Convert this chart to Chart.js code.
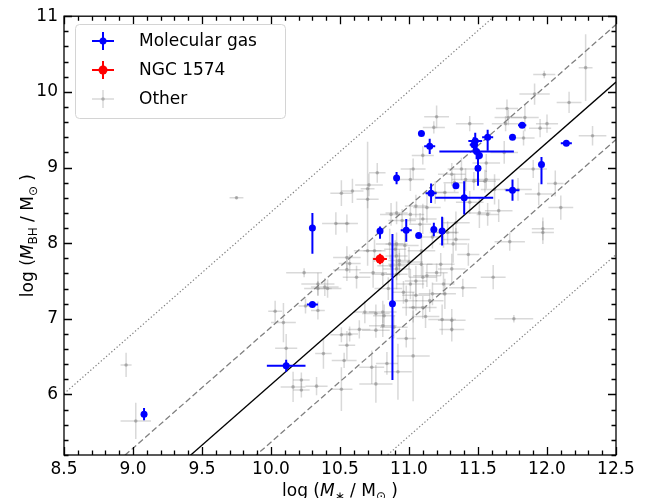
<!DOCTYPE html>
<html>
<head>
<meta charset="utf-8">
<script src="https://cdn.jsdelivr.net/npm/chart.js@4/dist/chart.umd.min.js"></script>
<style>
  html, body { margin: 0; padding: 0; background: #fff; }
</style>
</head>
<body>
<canvas id="myChart" width="651" height="498"></canvas>
<script>
"use strict";

// axes
const xTickValues = [8.5, 9.0, 9.5, 10.0, 10.5, 11.0, 11.5, 12.0, 12.5];
const yTickValues = [6, 7, 8, 9, 10, 11];

// relation: log MBH = fitAtEleven + fitSlope * (log M* - 11), scatter lines
const fitSlope = 1.6;
const fitAtEleven = 7.73;
const fitScatter = 0.76;

// molecular gas measurements
const gasX = [9.08, 10.11, 10.30, 10.30, 10.79, 10.88, 10.91, 10.98, 11.07, 11.09,
    11.15, 11.16, 11.18, 11.24, 11.34, 11.40, 11.48, 11.47, 11.49, 11.51,
    11.50, 11.57, 11.75, 11.75, 11.82, 11.96, 12.14];
const gasY = [5.74, 6.38, 7.19, 8.20, 8.16, 7.20, 8.86, 8.17, 8.10, 9.45,
    9.28, 8.66, 8.18, 8.16, 8.76, 8.60, 9.35, 9.30, 9.21, 9.16,
    8.99, 9.40, 9.40, 8.70, 9.56, 9.04, 9.32];
const gasXErr = [0, 0.14, 0.04, 0, 0, 0, 0, 0.04, 0, 0,
    0.04, 0.04, 0, 0, 0, 0.21, 0.05, 0.03, 0.27, 0,
    0, 0.04, 0, 0.05, 0.03, 0, 0.04];
const gasYErrLo = [0.08, 0.08, 0.03, 0.34, 0.10, 1.01, 0.08, 0.15, 0, 0,
    0.10, 0.13, 0.09, 0.19, 0, 0.22, 0.11, 0.10, 0.10, 0.05,
    0.23, 0.18, 0, 0.14, 0.02, 0.26, 0.03];
const gasYErrHi = [0.08, 0.08, 0.03, 0.20, 0.06, 0.92, 0.08, 0.15, 0, 0,
    0.10, 0.13, 0.09, 0.19, 0, 0.22, 0.11, 0.10, 0.10, 0.05,
    0.23, 0.10, 0, 0.14, 0.02, 0.10, 0.03];

// NGC 1574
const ngcX = [10.79];
const ngcY = [7.79];
const ngcXErr = [0.05];
const ngcYErr = [0.07];

// other methods
const otherX = [9.75, 8.95, 9.02, 10.24, 10.34, 10.03, 10.09, 10.11, 10.16, 10.22,
    10.22, 10.33, 10.38, 10.34, 10.25, 10.53, 10.55, 10.51, 10.57, 10.64,
    10.76, 10.89, 10.73, 10.76, 10.84, 10.92, 10.51, 11.31, 10.98, 11.03,
    11.61, 11.39, 11.76, 11.73, 11.43, 11.31, 11.26, 11.23, 11.20, 11.10,
    11.01, 10.96, 11.09, 11.32, 11.15, 11.03, 10.91, 10.91, 11.97, 11.25,
    10.34, 10.41, 10.55, 10.57, 10.62, 10.74, 10.81, 10.70, 10.75, 10.86,
    10.90, 10.87, 10.91, 10.85, 10.82, 10.76, 10.81, 11.10, 11.03, 11.38,
    11.56, 11.79, 11.90, 12.10, 11.97, 11.65, 11.51, 11.44, 11.13, 11.05,
    11.01, 10.91, 10.95, 11.08, 11.10, 11.34, 11.28, 11.41, 11.62, 11.57,
    11.94, 11.01, 11.98, 11.91, 12.16, 12.28, 11.20, 11.18, 11.44, 11.71,
    11.72, 11.70, 11.84, 12.00, 11.95, 11.83, 12.33, 12.06, 10.77, 10.71,
    10.59, 10.51, 10.70, 10.47, 10.55, 10.87, 11.69, 11.47, 11.31, 11.33,
    11.19, 11.26, 11.55, 11.56, 10.70, 10.55, 10.93, 11.05, 11.12, 11.24,
    10.81, 10.68, 10.39, 10.91, 10.97, 10.93, 11.00, 11.09, 11.13, 11.05,
    11.17, 10.98, 11.10, 11.25, 11.31, 11.34, 11.17];
const otherY = [8.60, 6.39, 5.65, 7.61, 7.40, 7.10, 6.95, 6.61, 6.10, 6.19,
    6.06, 6.11, 6.54, 7.11, 7.17, 6.45, 6.65, 6.79, 6.80, 6.86,
    6.85, 6.89, 6.36, 6.14, 6.41, 6.30, 6.07, 6.86, 6.74, 6.51,
    7.55, 7.41, 7.00, 8.02, 7.85, 6.98, 7.33, 7.72, 7.61, 7.55,
    7.46, 7.35, 7.90, 7.99, 7.24, 7.15, 7.83, 7.66, 8.14, 8.14,
    7.46, 7.40, 7.65, 7.73, 7.55, 7.61, 7.59, 7.90, 7.90, 7.99,
    7.92, 7.70, 7.59, 7.40, 7.04, 7.07, 6.91, 9.16, 8.98, 8.98,
    8.84, 8.71, 8.98, 8.47, 8.19, 8.43, 8.40, 8.54, 8.47, 8.49,
    8.38, 8.40, 8.30, 8.25, 8.32, 8.27, 8.14, 8.84, 8.71, 8.38,
    8.65, 8.84, 10.23, 9.97, 9.86, 10.32, 9.67, 9.53, 9.58, 9.78,
    9.66, 9.58, 9.66, 9.58, 9.52, 9.39, 9.42, 8.79, 8.93, 8.77,
    8.69, 8.66, 8.72, 8.26, 8.26, 8.38, 9.20, 8.82, 8.91, 8.80,
    8.67, 8.67, 8.82, 9.06, 8.58, 7.81, 7.77, 7.31, 7.03, 6.99,
    7.09, 7.09, 7.42, 7.99, 7.97, 7.72, 7.75, 7.72, 7.57, 7.50,
    7.33, 7.24, 7.15, 7.46, 7.66, 8.05, 8.08];
const otherXErr = [0.05, 0.04, 0.11, 0.13, 0.10, 0.05, 0.09, 0.08, 0.09, 0.06,
    0.06, 0.08, 0.06, 0.05, 0.05, 0.09, 0.06, 0.08, 0.06, 0.08,
    0.10, 0.10, 0.09, 0.12, 0.08, 0.10, 0.08, 0.09, 0.07, 0.12,
    0.09, 0.10, 0.14, 0.11, 0.08, 0.10, 0.08, 0.10, 0.08, 0.10,
    0.10, 0.08, 0.10, 0.10, 0.10, 0.08, 0.08, 0.10, 0.08, 0.10,
    0.12, 0.10, 0.10, 0.08, 0.10, 0.10, 0.08, 0.10, 0.08, 0.10,
    0.08, 0.10, 0.08, 0.10, 0.08, 0.10, 0.10, 0.08, 0.09, 0.10,
    0.10, 0.10, 0.10, 0.09, 0.08, 0.10, 0.08, 0.10, 0.10, 0.08,
    0.10, 0.08, 0.10, 0.08, 0.10, 0.10, 0.08, 0.10, 0.10, 0.08,
    0.10, 0.10, 0.08, 0.11, 0.09, 0.05, 0.09, 0.08, 0.10, 0.08,
    0.10, 0.10, 0.10, 0.08, 0.08, 0.08, 0.10, 0.06, 0.06, 0.10,
    0.08, 0.08, 0.05, 0.10, 0.08, 0.08, 0.10, 0.08, 0.10, 0.08,
    0.08, 0.10, 0.08, 0.10, 0.08, 0.10, 0.08, 0.10, 0.10, 0.10,
    0.10, 0.08, 0.10, 0.08, 0.10, 0.08, 0.10, 0.08, 0.10, 0.08,
    0.10, 0.08, 0.10, 0.08, 0.10, 0.10, 0.08];
const otherYErr = [0.02, 0.16, 0.24, 0.06, 0.10, 0.14, 0.26, 0.19, 0.20, 0.10,
    0.10, 0.12, 0.20, 0.12, 0.10, 0.10, 0.19, 0.10, 0.10, 0.12,
    0.10, 0.15, 0.22, 0.25, 0.15, 0.37, 0.29, 0.16, 0.12, 0.60,
    0.16, 0.12, 0.05, 0.12, 0.15, 0.15, 0.20, 0.15, 0.12, 0.15,
    0.20, 0.15, 0.20, 0.25, 0.15, 0.20, 0.15, 0.15, 0.15, 0.20,
    0.15, 0.12, 0.15, 0.12, 0.15, 0.20, 0.15, 0.20, 0.15, 0.20,
    0.12, 0.15, 0.20, 0.15, 0.15, 0.12, 0.15, 0.12, 0.14, 0.15,
    0.12, 0.15, 0.12, 0.16, 0.15, 0.15, 0.20, 0.15, 0.20, 0.15,
    0.12, 0.15, 0.15, 0.15, 0.20, 0.15, 0.15, 0.15, 0.20, 0.15,
    0.15, 0.15, 0.05, 0.14, 0.14, 0.44, 0.15, 0.08, 0.10, 0.12,
    0.10, 0.10, 0.18, 0.12, 0.12, 0.10, 0.13, 0.17, 0.13, 0.15,
    0.16, 0.17, 0.62, 0.15, 0.12, 0.15, 0.15, 0.12, 0.15, 0.12,
    0.15, 0.12, 0.15, 0.12, 0.12, 0.15, 0.15, 0.20, 0.15, 0.20,
    0.15, 0.15, 0.12, 0.15, 0.20, 0.15, 0.20, 0.15, 0.15, 0.20,
    0.15, 0.20, 0.15, 0.15, 0.20, 0.15, 0.15];

const FONT = "DejaVu Sans";

function points(xs, ys) {
    return xs.map((x, i) => ({ x: x, y: ys[i] }));
}

function fitLine(offset) {
    const xMin = xTickValues[0];
    const xMax = xTickValues[xTickValues.length - 1];
    return [
        { x: xMin, y: fitAtEleven + offset + fitSlope * (xMin - 11) },
        { x: xMax, y: fitAtEleven + offset + fitSlope * (xMax - 11) }
    ];
}

function lineSet(offset, color, dash, width) {
    return {
        type: "line",
        data: fitLine(offset),
        borderColor: color,
        borderDash: dash,
        borderWidth: width,
        pointRadius: 0,
        fill: false,
        tension: 0,
        order: 3
    };
}

// error bars, drawn just before each dataset's markers
const errorBars = {
    id: "errorBars",
    beforeDatasetDraw(chart, args) {
        const ds = chart.data.datasets[args.index];
        if (!ds.xErr) return;
        const xs = chart.scales.x, ys = chart.scales.y, c = chart.ctx;
        const area = chart.chartArea;
        c.save();
        c.beginPath();
        c.rect(area.left, area.top, area.right - area.left, area.bottom - area.top);
        c.clip();
        c.strokeStyle = ds.barColor;
        c.lineWidth = ds.barWidth;
        ds.data.forEach((p, i) => {
            const px = xs.getPixelForValue(p.x);
            const py = ys.getPixelForValue(p.y);
            const xe = ds.xErr[i], lo = ds.yErrLo[i], hi = ds.yErrHi[i];
            if (xe > 0) {
                c.beginPath();
                c.moveTo(xs.getPixelForValue(p.x - xe), py);
                c.lineTo(xs.getPixelForValue(p.x + xe), py);
                c.stroke();
            }
            if (lo > 0 || hi > 0) {
                c.beginPath();
                c.moveTo(px, ys.getPixelForValue(p.y - lo));
                c.lineTo(px, ys.getPixelForValue(p.y + hi));
                c.stroke();
            }
        });
        c.restore();
    }
};

// frame + inward ticks on all four sides
const frameTicks = {
    id: "frameTicks",
    afterDraw(chart) {
        const c = chart.ctx, a = chart.chartArea;
        const xs = chart.scales.x, ys = chart.scales.y;
        c.save();
        c.strokeStyle = "#000";
        c.lineWidth = 1.3;
        c.strokeRect(a.left, a.top, a.right - a.left, a.bottom - a.top);
        c.beginPath();
        for (let i = 0; i <= 40; i++) {
            const v = 8.5 + i * 0.1;
            const len = i % 5 === 0 ? 8 : 4.5;
            const px = Math.round(xs.getPixelForValue(v)) + 0.5;
            c.moveTo(px, a.bottom); c.lineTo(px, a.bottom - len);
            c.moveTo(px, a.top); c.lineTo(px, a.top + len);
        }
        for (let i = 0; i <= 29; i++) {
            const v = 5.2 + i * 0.2;
            const major = Math.abs(v - Math.round(v)) < 1e-6;
            const len = major ? 8 : 4.5;
            const py = Math.round(ys.getPixelForValue(v)) + 0.5;
            c.moveTo(a.left, py); c.lineTo(a.left + len, py);
            c.moveTo(a.right, py); c.lineTo(a.right - len, py);
        }
        c.stroke();
        c.restore();
    }
};

// text with italic / subscript pieces
function richWidth(c, parts) {
    let w = 0;
    parts.forEach(p => {
        c.font = (p.it ? "italic " : "") + (p.sub ? 12 : 17) + "px '" + FONT + "'";
        w += c.measureText(p.t).width;
    });
    return w;
}

function drawRich(c, parts, x, y) {
    let cx = x - richWidth(c, parts) / 2;
    parts.forEach(p => {
        c.font = (p.it ? "italic " : "") + (p.sub ? 12 : 17) + "px '" + FONT + "'";
        c.fillText(p.t, cx, p.sub ? y + 4 : y);
        cx += c.measureText(p.t).width;
    });
}

const axisTitles = {
    id: "axisTitles",
    afterDraw(chart) {
        const c = chart.ctx, a = chart.chartArea;
        c.save();
        c.fillStyle = "#000";
        c.textBaseline = "alphabetic";
        c.textAlign = "left";
        drawRich(c, [
            { t: "log (" }, { t: "M", it: true }, { t: "\u2217", sub: true },
            { t: " / M" }, { t: "\u2299", sub: true }, { t: " )" }
        ], (a.left + a.right) / 2, 496);
        c.translate(33, (a.top + a.bottom) / 2);
        c.rotate(-Math.PI / 2);
        drawRich(c, [
            { t: "log (" }, { t: "M", it: true }, { t: "BH", sub: true },
            { t: " / M" }, { t: "\u2299", sub: true }, { t: " )" }
        ], 0, 0);
        c.restore();
    }
};

// legend box drawn inside the axes, top left
const legendBox = {
    id: "legendBox",
    afterDraw(chart) {
        const c = chart.ctx;
        const entries = [
            chart.data.datasets[1],
            chart.data.datasets[0],
            chart.data.datasets[2]
        ];
        c.save();
        c.fillStyle = "rgba(255,255,255,0.8)";
        c.strokeStyle = "#d4d4d4";
        c.lineWidth = 1;
        c.beginPath();
        c.roundRect(75.5, 24.5, 210, 94, 4);
        c.fill();
        c.stroke();
        entries.forEach((ds, i) => {
            const cy = 41 + i * 29;
            const cx = 103;
            c.strokeStyle = ds.barColor;
            c.lineWidth = ds.barWidth;
            c.beginPath();
            c.moveTo(cx - 11, cy); c.lineTo(cx + 11, cy);
            c.moveTo(cx, cy - 9); c.lineTo(cx, cy + 9);
            c.stroke();
            c.fillStyle = ds.backgroundColor;
            c.beginPath();
            c.arc(cx, cy, ds.pointRadius, 0, Math.PI * 2);
            c.fill();
            c.fillStyle = "#000";
            c.font = "17px '" + FONT + "'";
            c.textBaseline = "middle";
            c.fillText(ds.label, 139, cy + 1);
        });
        c.restore();
    }
};

const ctx = document.getElementById("myChart").getContext("2d");
const chart = new Chart(ctx, {
    type: "scatter",
    data: {
        datasets: [
            {
                label: "NGC 1574",
                data: points(ngcX, ngcY),
                xErr: ngcXErr,
                yErrLo: ngcYErr,
                yErrHi: ngcYErr,
                barColor: "#ff0000",
                barWidth: 2,
                backgroundColor: "#ff0000",
                pointRadius: 4.5,
                pointBorderWidth: 0,
                order: 1
            },
            {
                label: "Molecular gas",
                data: points(gasX, gasY),
                xErr: gasXErr,
                yErrLo: gasYErrLo,
                yErrHi: gasYErrHi,
                barColor: "#0000ff",
                barWidth: 2,
                backgroundColor: "#0000ff",
                pointRadius: 3.5,
                pointBorderWidth: 0,
                order: 2
            },
            {
                label: "Other",
                data: points(otherX, otherY),
                xErr: otherXErr,
                yErrLo: otherYErr,
                yErrHi: otherYErr,
                barColor: "rgba(128,128,128,0.3)",
                barWidth: 1.5,
                backgroundColor: "rgba(128,128,128,0.5)",
                pointRadius: 1.8,
                pointBorderWidth: 0,
                order: 4
            },
            lineSet(0, "#000000", [], 1.3),
            lineSet(fitScatter, "#808080", [6, 3], 1.3),
            lineSet(-fitScatter, "#808080", [6, 3], 1.3),
            lineSet(3 * fitScatter, "#808080", [1.3, 2.2], 1.2),
            lineSet(-3 * fitScatter, "#808080", [1.3, 2.2], 1.2)
        ]
    },
    options: {
        responsive: false,
        animation: false,
        events: [],
        layout: { padding: { top: 15, right: 35, left: 0, bottom: 0 } },
        plugins: {
            legend: { display: false },
            tooltip: { enabled: false }
        },
        scales: {
            x: {
                type: "linear",
                min: 8.5,
                max: 12.5,
                afterBuildTicks: s => { s.ticks = xTickValues.map(v => ({ value: v })); },
                afterFit: s => { s.height = 43; },
                grid: { display: false, drawTicks: false },
                border: { display: false },
                ticks: {
                    color: "#000",
                    font: { family: FONT, size: 17 },
                    padding: 4,
                    maxRotation: 0,
                    autoSkip: false,
                    callback: v => v.toFixed(1)
                }
            },
            y: {
                type: "linear",
                min: 5.2,
                max: 11,
                afterBuildTicks: s => { s.ticks = yTickValues.map(v => ({ value: v })); },
                afterFit: s => { s.width = 64; },
                grid: { display: false, drawTicks: false },
                border: { display: false },
                ticks: {
                    color: "#000",
                    font: { family: FONT, size: 17 },
                    padding: 6,
                    autoSkip: false,
                    callback: v => String(v)
                }
            }
        }
    },
    plugins: [errorBars, frameTicks, axisTitles, legendBox]
});
</script>
</body>
</html>
